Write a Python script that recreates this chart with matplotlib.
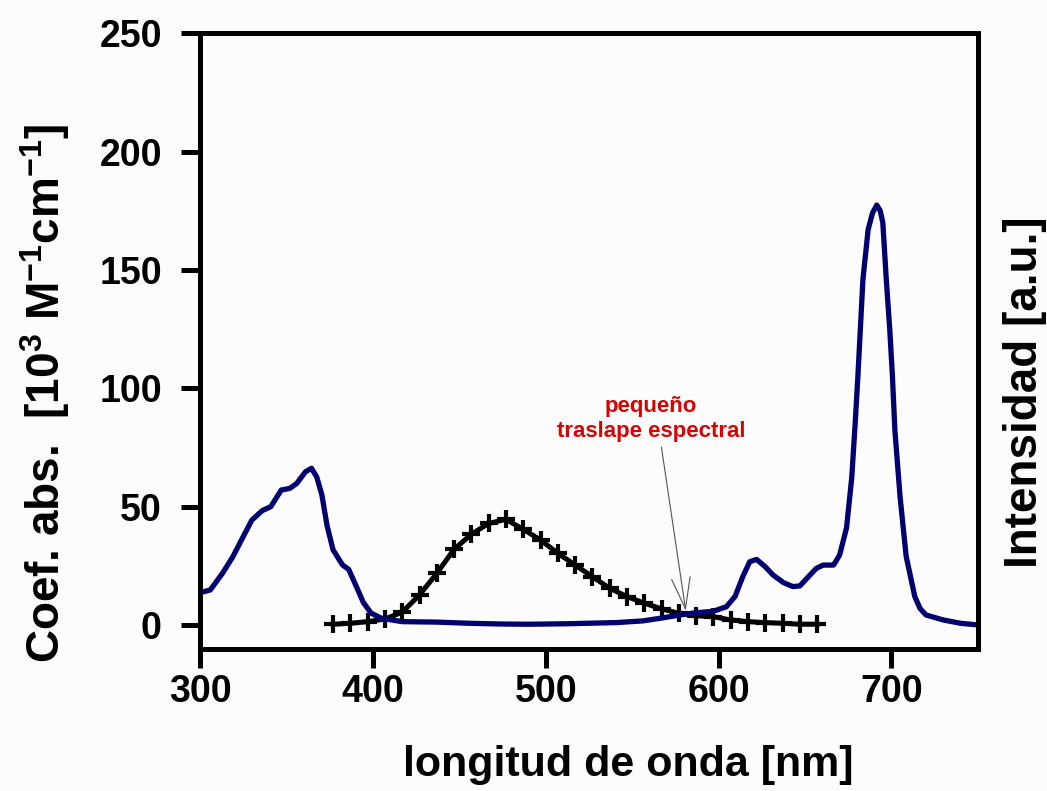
import matplotlib.pyplot as plt

plt.rcParams['font.family'] = ['Liberation Sans', 'DejaVu Sans']
plt.rcParams['font.weight'] = 'bold'
plt.rcParams['mathtext.fontset'] = 'custom'
plt.rcParams['mathtext.rm'] = 'Liberation Sans:bold'
plt.rcParams['mathtext.it'] = 'Liberation Sans:bold'
plt.rcParams['mathtext.bf'] = 'Liberation Sans:bold'

# absorption spectrum (left axis, 10^3 M^-1 cm^-1)
abs_nm = [300, 306, 313, 319, 325, 330, 336, 341, 347, 352, 356, 361, 364.5,
          367.5, 370.5, 373.5, 377, 382.5, 386, 390, 394.5, 399, 405, 417,
          437, 456, 474, 490, 512, 541, 556, 566, 576, 585, 597, 604.5, 609.5,
          614, 618, 622, 627, 631.5, 637.5, 643, 647, 652, 656.5, 660.5, 666.5,
          670, 674, 677, 679, 680.5, 682, 683.5, 686.5, 689, 691.5, 693.5,
          695, 697, 699, 700.5, 702, 705, 708.5, 713.5, 716.5, 720, 730, 740, 750]
abs_val = [13.6, 14.8, 21.8, 28.8, 37.3, 44.3, 48.3, 50, 57, 57.7, 59.8, 64.7,
           66.2, 62.6, 55, 42, 31.7, 25.3, 23.5, 17, 9.5, 5, 2.8, 1.4,
           1.2, 0.7, 0.4, 0.3, 0.5, 1, 1.7, 2.8, 4, 5, 5.8, 7.7, 12,
           20.4, 26.7, 27.7, 24.6, 21.1, 17.9, 16.2, 16.5, 20.4, 23.9, 25.3, 25.3,
           29.5, 41, 62, 85, 104, 125, 146, 167, 174, 177.4, 175,
           170, 146, 125, 106, 82, 54, 29, 12, 7, 4.2, 2.1, 0.7, 0]

# emission spectrum (right axis, a.u.)
em_nm = [377, 387, 397, 407, 417, 427, 437, 447, 457, 467, 477, 487, 497, 507,
         517, 527, 537, 547, 557, 567, 577, 587, 597, 607, 617, 627, 637, 647, 657]
em_val = [0.3, 0.7, 1.4, 2.5, 5.4, 12.7, 21.8, 32, 38.3, 42.9, 44.6, 40.4, 35.9,
          30.3, 25.3, 20.4, 15.5, 12, 9.2, 6.8, 4.9, 3.9, 3.5, 2.1, 1.4, 1.0,
          0.7, 0.3, 0.3]

bg = '#fcfcfc'
fig = plt.figure(figsize=(10.47, 7.91), dpi=100, facecolor=bg)
ax = fig.add_axes([0.191, 0.180, 0.743, 0.778], facecolor=bg)

ax.plot(abs_nm, abs_val, color='#00006e', lw=3.8, solid_joinstyle='round')
ax.set_xlim(300, 750)
ax.set_ylim(-10, 250)
ax.set_xticks([300, 400, 500, 600, 700])
ax.set_yticks([0, 50, 100, 150, 200, 250])
ax.tick_params(axis='both', direction='out', length=13.5, width=3.6,
               labelsize=27, color='black')
ax.tick_params(axis='y', pad=14)
ax.tick_params(axis='x', pad=5)

ax.set_xlabel('longitud de onda [nm]', fontsize=31, fontweight='bold')
ax.xaxis.set_label_coords(0.55, -0.157)
ax.set_ylabel('Coef. abs.  [10$^{3}$ M$^{-1}$cm$^{-1}$]', fontsize=33,
              fontweight='bold')
ax.yaxis.set_label_coords(-0.165, 0.414)

ax2 = ax.twinx()
ax2.plot(em_nm, em_val, color='black', lw=3.6, marker='+', markersize=13,
         markeredgewidth=3)
ax2.set_ylim(-10, 250)
ax2.set_yticks([])
ax2.set_ylabel('Intensidad [a.u.]', fontsize=33, fontweight='bold')
ax2.yaxis.set_label_coords(1.032, 0.417)

for a in (ax, ax2):
    for s in a.spines.values():
        s.set_linewidth(3.6)
        s.set_color('black')

ax.annotate('pequeño\ntraslape espectral', xy=(581, 6), xytext=(561, 87),
            ha='center', va='center', color='#d40000', fontsize=16,
            fontweight='bold', linespacing=1.2,
            arrowprops=dict(arrowstyle='->,head_length=1.4,head_width=0.42',
                            color='#555555', lw=0.8, relpos=(0.55, 0),
                            shrinkA=2, shrinkB=0))
ax.set_zorder(ax2.get_zorder() + 1)
ax.patch.set_visible(False)
ax2.patch.set_facecolor(bg)
ax2.patch.set_visible(True)

fig.savefig('out.png', dpi=100, facecolor=bg)
